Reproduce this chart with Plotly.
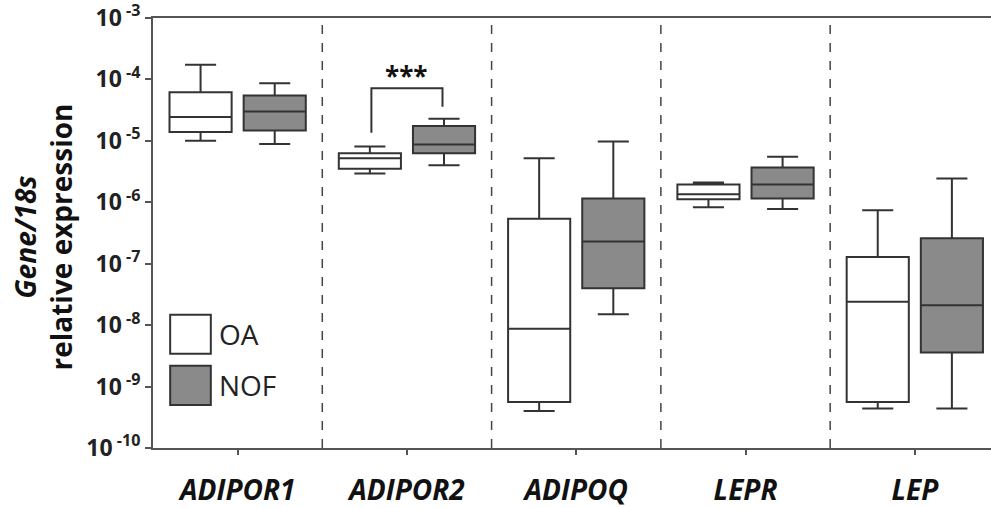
import plotly.graph_objects as go

genes = ["ADIPOR1", "ADIPOR2", "ADIPOQ", "LEPR", "LEP"]

# OA group statistics
oa_lower = [1.0e-5, 2.95e-6, 4.0e-10, 8.3e-7, 4.4e-10]
oa_q1 = [1.4e-5, 3.5e-6, 5.6e-10, 1.12e-6, 5.6e-10]
oa_median = [2.45e-5, 5.2e-6, 8.7e-9, 1.35e-6, 2.4e-8]
oa_q3 = [6.2e-5, 6.3e-6, 5.4e-7, 1.95e-6, 1.29e-7]
oa_upper = [1.74e-4, 8.1e-6, 5.2e-6, 2.1e-6, 7.4e-7]

# NOF group statistics
nof_lower = [8.9e-6, 4.0e-6, 1.5e-8, 7.8e-7, 4.4e-10]
nof_q1 = [1.48e-5, 6.3e-6, 4.0e-8, 1.15e-6, 3.6e-9]
nof_median = [3.0e-5, 8.7e-6, 2.3e-7, 1.95e-6, 2.1e-8]
nof_q3 = [5.5e-5, 1.74e-5, 1.15e-6, 3.7e-6, 2.6e-7]
nof_upper = [8.7e-5, 2.3e-5, 9.8e-6, 5.5e-6, 2.45e-6]

ytick_vals = [1e-10, 1e-9, 1e-8, 1e-7, 1e-6, 1e-5, 1e-4, 1e-3]
ytick_text = ["10<sup> -10</sup>", "10<sup> -9</sup>", "10<sup> -8</sup>", "10<sup> -7</sup>",
              "10<sup> -6</sup>", "10<sup> -5</sup>", "10<sup> -4</sup>", "10<sup> -3</sup>"]

# significance bracket (ADIPOR2)
sig_label = "***"
sig_left_y = 1.35e-5
sig_top_y = 7.2e-5
sig_right_y = 3.6e-5
sig_star_exp = -3.95  # log10 position of the stars

LINE = "#333333"
AXIS = "#555555"
FONT = "Open Sans"

fig = go.Figure()
fig.add_trace(go.Box(
    name="OA", x=genes, q1=oa_q1, median=oa_median, q3=oa_q3,
    lowerfence=oa_lower, upperfence=oa_upper,
    fillcolor="white", line=dict(color=LINE, width=2), whiskerwidth=0.5,
    boxpoints=False, hoverinfo="skip"))
fig.add_trace(go.Box(
    name="NOF", x=genes, q1=nof_q1, median=nof_median, q3=nof_q3,
    lowerfence=nof_lower, upperfence=nof_upper,
    fillcolor="#8a8a8a", line=dict(color=LINE, width=2), whiskerwidth=0.5,
    boxpoints=False, hoverinfo="skip"))

shapes = []
for sep in [0.5, 1.5, 2.5, 3.5]:
    shapes.append(dict(type="line", xref="x", yref="paper", x0=sep, x1=sep, y0=0, y1=1,
                       line=dict(color="#444444", width=1.5, dash="dash"), layer="below"))

# bracket
shapes.append(dict(type="path", xref="x", yref="y",
                   path=f"M {1-0.21},{sig_left_y:.3e} L {1-0.21},{sig_top_y:.3e} L {1+0.21},{sig_top_y:.3e} L {1+0.21},{sig_right_y:.3e}",
                   line=dict(color=LINE, width=2)))

# legend squares
shapes.append(dict(type="rect", xref="paper", yref="paper", x0=0.0205, x1=0.069, y0=0.219, y1=0.31,
                   fillcolor="white", line=dict(color=LINE, width=2)))
shapes.append(dict(type="rect", xref="paper", yref="paper", x0=0.0205, x1=0.069, y0=0.10, y1=0.191,
                   fillcolor="#8a8a8a", line=dict(color=LINE, width=2)))

annotations = [
    dict(x=1, y=sig_star_exp, xref="x", yref="y", text="<b>" + sig_label + "</b>", showarrow=False,
         font=dict(size=26, color="#111111", family=FONT), yanchor="middle"),
    dict(x=0.076, y=0.265, xref="paper", yref="paper", text="OA", showarrow=False, xanchor="left",
         yanchor="middle", font=dict(size=28, color="#222222", family=FONT)),
    dict(x=0.076, y=0.146, xref="paper", yref="paper", text="NOF", showarrow=False, xanchor="left",
         yanchor="middle", font=dict(size=28, color="#222222", family=FONT)),
    dict(x=-0.131, y=0.49, xref="paper", yref="paper",
         text="<i>Gene/18s</i><br>relative expression", textangle=-90, showarrow=False,
         xanchor="center", yanchor="middle",
         font=dict(family=FONT, size=28, color="#111111", weight="bold")),
]

fig.update_layout(
    width=991, height=508,
    margin=dict(l=153, r=0, t=18, b=60),
    paper_bgcolor="white", plot_bgcolor="white",
    boxmode="group", boxgap=0.124, boxgroupgap=0.162,
    showlegend=False,
    shapes=shapes, annotations=annotations,
    font=dict(family=FONT, color="#222222"),
    xaxis=dict(
        type="category", range=[-0.5, 4.45], automargin=False,
        showline=True, linecolor=AXIS, linewidth=2, mirror=True,
        ticks="outside", ticklen=5, tickwidth=1.5, tickcolor=AXIS,
        ticklabelstandoff=11,
        tickfont=dict(family=FONT, size=28, color="#111111", weight="bold", style="italic"),
        showgrid=False, zeroline=False,
    ),
    yaxis=dict(
        type="log", range=[-10, -3], automargin=False, ticklabeloverflow="allow",
        tickvals=ytick_vals, ticktext=ytick_text,
        showline=True, linecolor=AXIS, linewidth=2,
        ticks="outside", ticklen=6, tickwidth=1.5, tickcolor=AXIS,
        tickfont=dict(family=FONT, size=23, color="#222222", weight="bold"),
        showgrid=False, zeroline=False,
    ),
)

fig.write_html("out.html", config={"displayModeBar": False},
               post_script="document.body.style.margin='0';")
